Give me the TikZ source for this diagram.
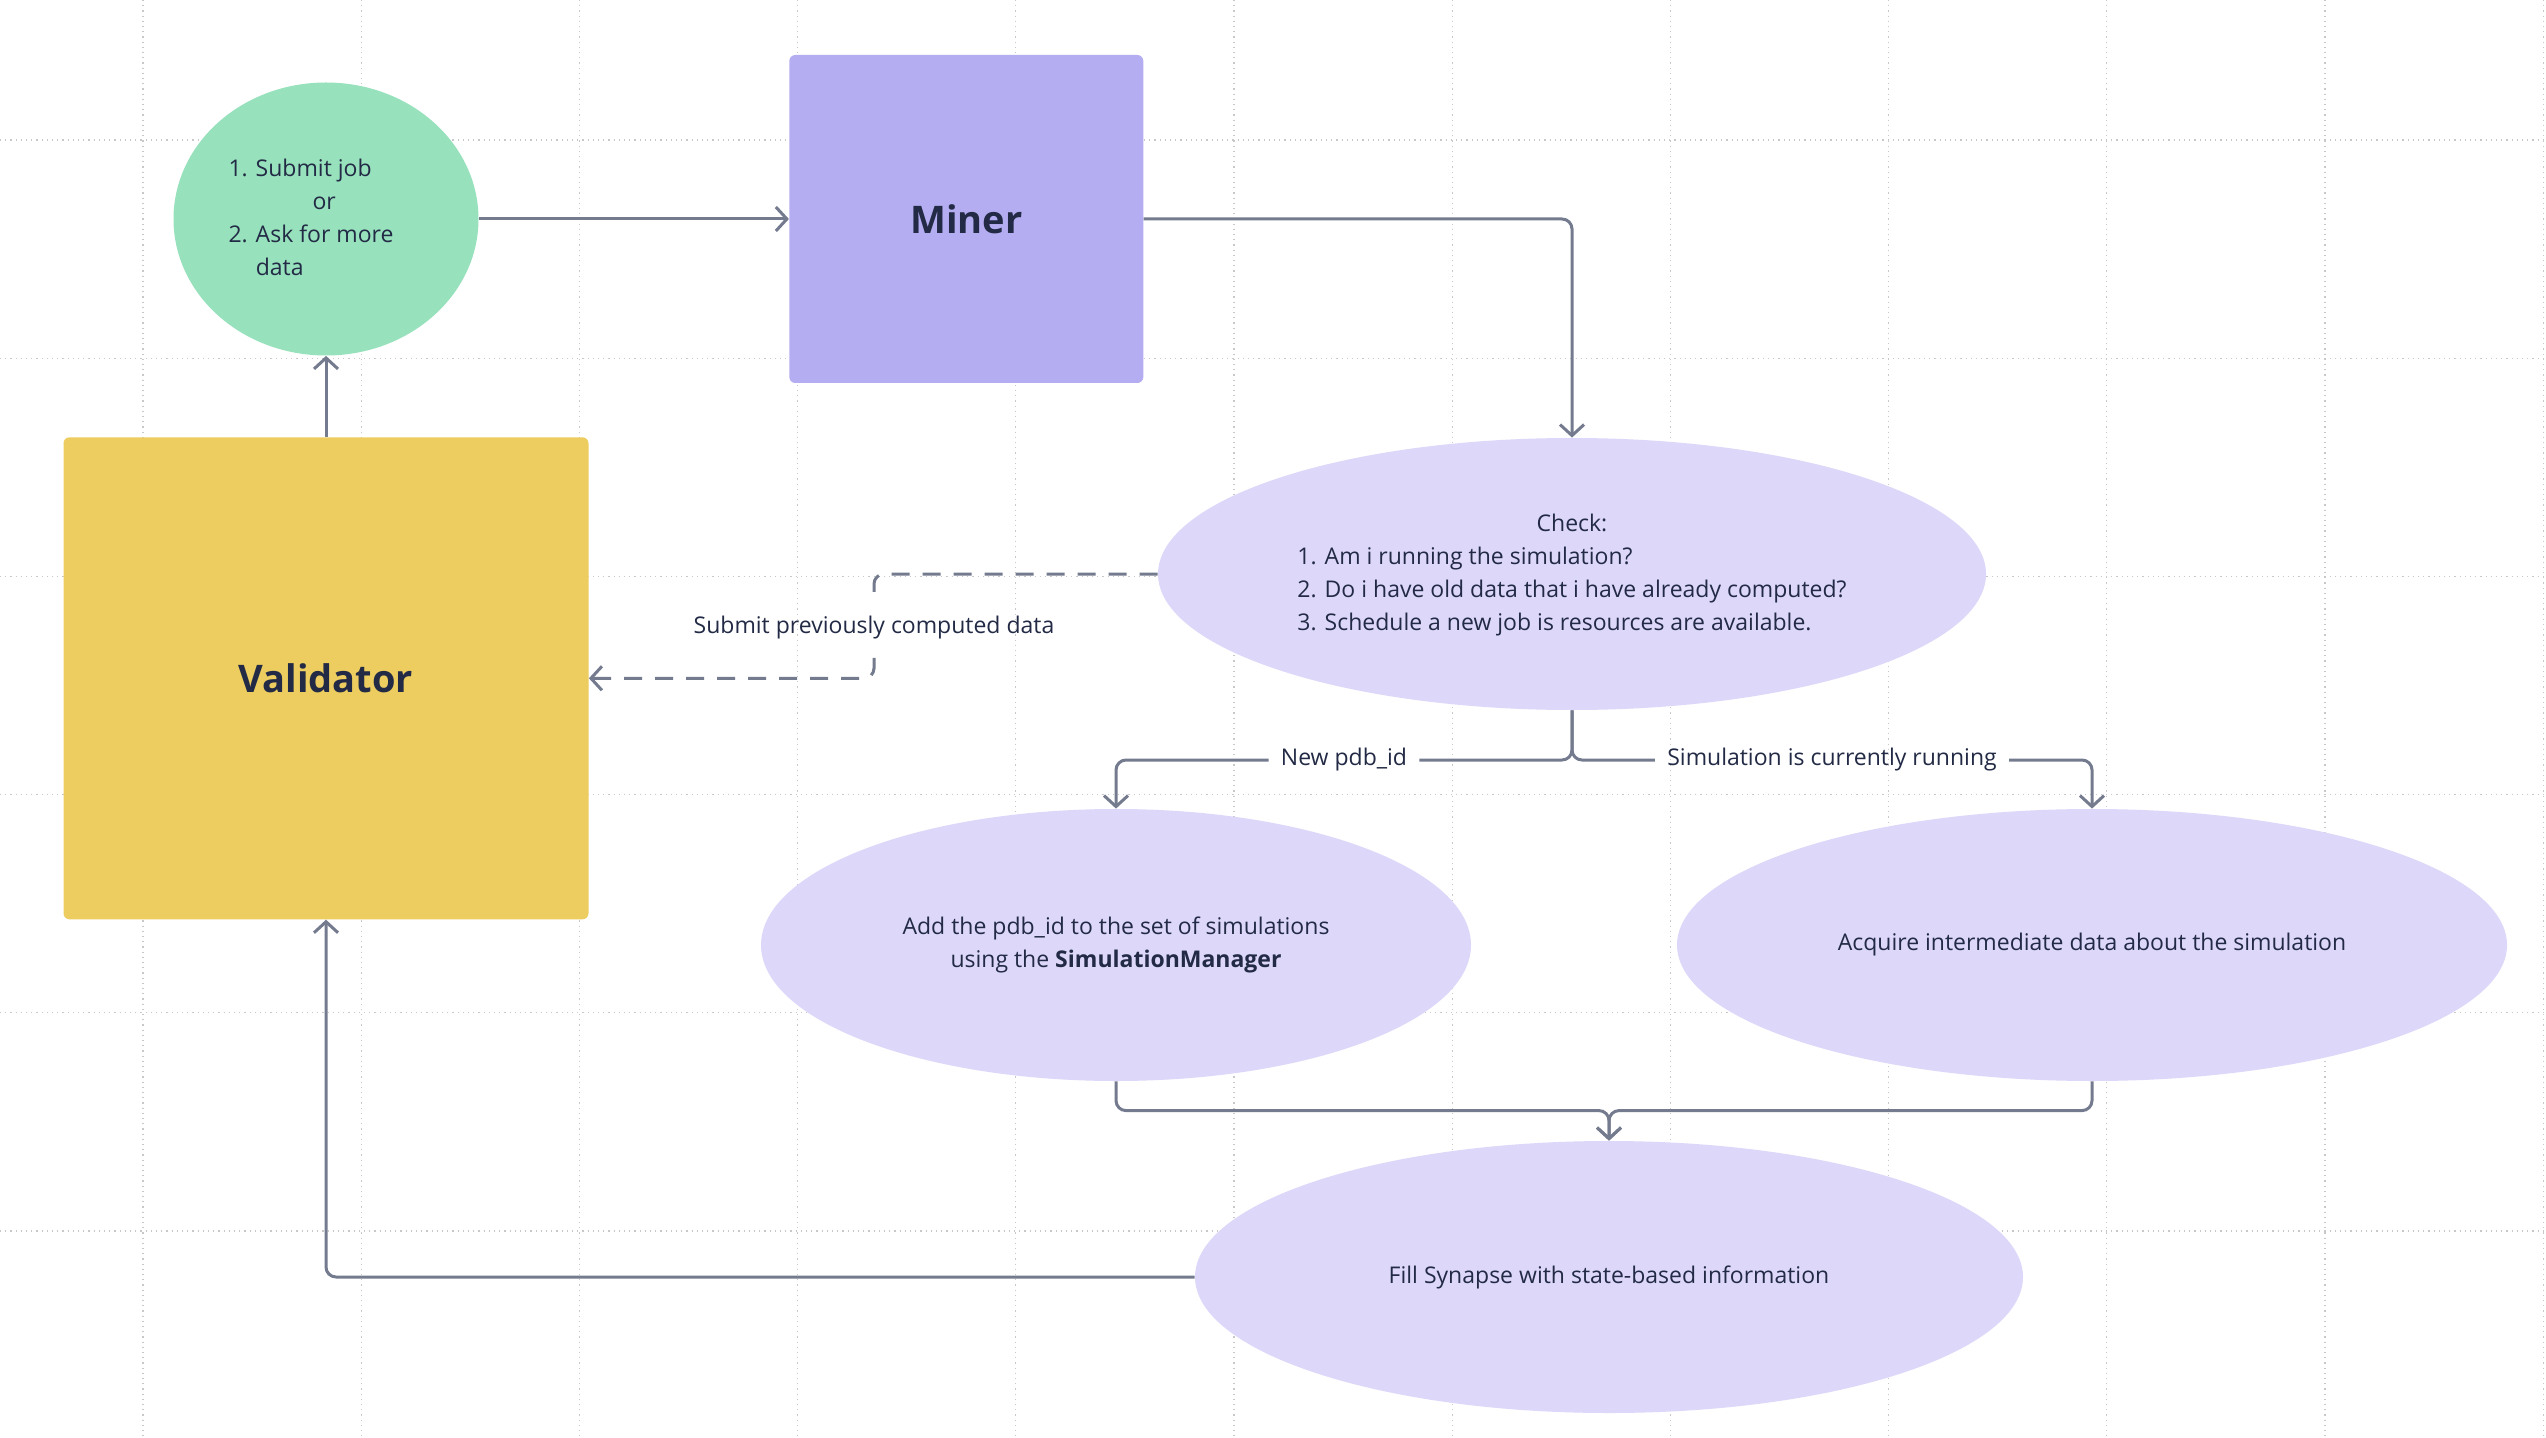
\documentclass[tikz,border=0pt]{standalone}
\usepackage{fontspec}
\setmainfont{Open Sans}
\usepackage{tikz}
\usetikzlibrary{positioning, shapes.geometric, arrows.meta}

\definecolor{lineclr}{HTML}{747B8E}
\definecolor{txtclr}{HTML}{222A45}
\definecolor{askclr}{HTML}{97E1BC}
\definecolor{minerclr}{HTML}{B5ADF1}
\definecolor{validclr}{HTML}{EDCD5F}
\definecolor{stepclr}{HTML}{DDD8FA}
\definecolor{gridclr}{HTML}{C8C8C8}

\begin{document}
\begin{tikzpicture}[
    x=1pt, y=1pt,
    every node/.style={
        text=txtclr,
        align=center,
        inner sep=0pt,
        font=\fontsize{11.5}{16.5}\selectfont
    },
    asknode/.style={ellipse, fill=askclr, minimum width=152.5pt, minimum height=136.5pt},
    boxnode/.style={rectangle, rounded corners=3pt, font=\fontsize{19}{23}\selectfont\bfseries},
    stepnode/.style={ellipse, fill=stepclr, minimum height=136pt},
    lbl/.style={inner xsep=6pt, inner ysep=3pt},
    gridline/.style={draw=gridclr, dotted, line width=0.6pt},
    link/.style={draw=lineclr, line width=1.5pt, rounded corners=5pt},
    arrow/.style={link, -{Straight Barb[length=5.5pt,width=12pt]}},
    dashlink/.style={link, dash pattern=on 9pt off 6.5pt},
    dasharrow/.style={arrow, dash pattern=on 9pt off 6.5pt}
]
\fill[white] (0,0) rectangle (1273,-719);
\useasboundingbox (0,0) rectangle (1273,-719);
% background grid
\foreach \gx in {0,...,11}
    \draw[gridline] ({71.5+109.1*\gx},0) -- ++(0,-719);
\foreach \gy in {0,...,5}
    \draw[gridline] (0,{-70-109.1*\gy}) -- ++(1273,0);

\node[asknode] (ask) at (163,-109.5) {\begin{tabular}{@{}l@{\hspace{15pt}}}1. Submit job\\\hspace*{42pt}or\\2. Ask for more\\\hphantom{2. }data\end{tabular}};
\node[boxnode, fill=minerclr, minimum width=177pt, minimum height=164pt] (miner) [right=155pt of ask] {Miner};
\node[boxnode, fill=validclr, minimum width=262.5pt, minimum height=241pt] (validator) [below=40.5pt of ask] {Validator};
\node[stepnode, minimum width=414pt] (check) at (786,-287) {\begin{tabular}{@{}l@{}}\multicolumn{1}{@{}c@{}}{Check:}\\1. Am i running the simulation?\\2. Do i have old data that i have already computed?\\3. Schedule a new job is resources are available.\end{tabular}};
\node[stepnode, minimum width=355pt] (add) at (558,-472.5) {Add the pdb\_id to the set of simulations\\using the \textbf{SimulationManager}};
\node[stepnode, minimum width=415pt] (acquire) at (1046,-472.5) {Acquire intermediate data about the simulation};
\node[stepnode, minimum width=414pt] (synapse) at (804.5,-638.5) {Fill Synapse with state-based information};

\node[lbl] (newlbl) at (672,-380) {New pdb\_id};
\node[lbl] (runlbl) at (916,-380) {Simulation is currently running};
\node[lbl, inner ysep=9pt] (submitlbl) at (437,-314) {Submit previously computed data};
\coordinate (merge) at ([yshift=15pt]synapse.north);

\draw[arrow] (ask) -- (miner);
\draw[arrow] (miner.east) -| (check.north);
\draw[arrow] (validator) -- (ask);
\draw[dashlink] (check.west) -| (submitlbl.north);
\draw[dasharrow] (submitlbl.south) |- (validator.east);
\draw[link] (check.south) |- (newlbl.east);
\draw[arrow] (newlbl.west) -| (add.north);
\draw[link] (check.south) |- (runlbl.west);
\draw[arrow] (runlbl.east) -| (acquire.north);
\draw[arrow] (add.south) |- (merge) -- (synapse.north);
\draw[arrow] (acquire.south) |- (merge) -- (synapse.north);
\draw[arrow] (synapse.west) -| (validator.south);
\end{tikzpicture}
\end{document}
